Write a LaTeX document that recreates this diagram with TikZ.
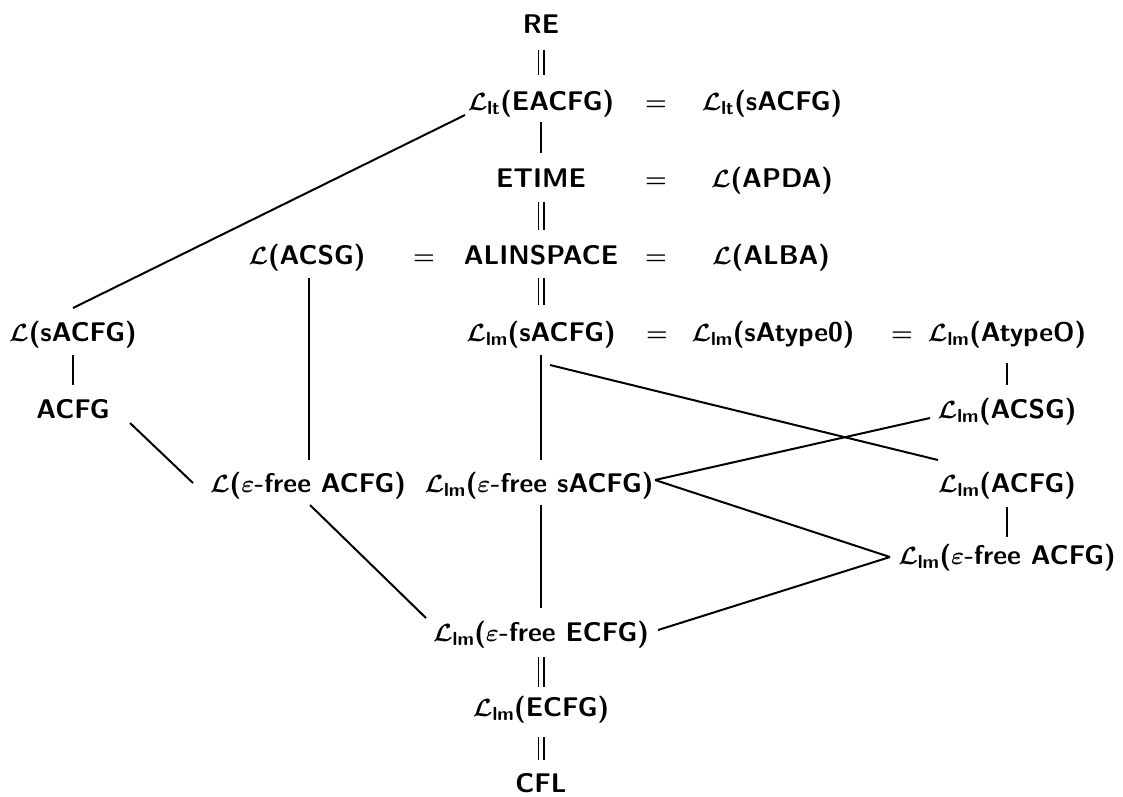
\documentclass[tikz,border=0pt]{standalone}
\usepackage{amsmath}
\usepackage{fontspec}
\newcommand{\LL}{$\mathcal{L}$}
\newcommand{\LLm}{$\mathcal{L}_{\textsf{lm}}$}
\newcommand{\LLt}{$\mathcal{L}_{\textsf{lt}}$}
\newcommand{\eps}{$\varepsilon$}
\begin{document}
\begin{tikzpicture}[x=1pt,y=-1pt,
  lab/.style={font=\fontsize{27}{31}\selectfont\sffamily\bfseries\boldmath, inner sep=0pt, anchor=base},
  ln/.style={line width=2pt},
  eqln/.style={double, double distance=3.4pt, line width=1.8pt}]
\useasboundingbox (0,0) rectangle (1123,796);
% nodes
\node[lab] (re) at (541,33) {RE};
\node[lab] (llt) at (541,110) {\LLt(EACFG)};
\node[lab] (e1) at (656,110) {$=$};
\node[lab] (lltS) at (772,110) {\LLt(sACFG)};
\node[lab] (etime) at (541,187) {ETIME};
\node[lab] (e2) at (656,187) {$=$};
\node[lab] (apda) at (772,187) {\LL(APDA)};
\node[lab] (lacsg) at (307,264) {\LL(ACSG)};
\node[lab] (e3) at (424,264) {$=$};
\node[lab] (alin) at (541,264) {ALINSPACE};
\node[lab] (e4) at (656,264) {$=$};
\node[lab] (alba) at (771,264) {\LL(ALBA)};
\node[lab] (lsacfg) at (73,341) {\LL(sACFG)};
\node[lab] (lmsacfg) at (541,341) {\LLm(sACFG)};
\node[lab] (e5) at (657,341) {$=$};
\node[lab] (lmsat) at (773,341) {\LLm(sAtype0)};
\node[lab] (e6) at (902,341) {$=$};
\node[lab] (lmat) at (1007,341) {\LLm(AtypeO)};
\node[lab] (acfg) at (73,418) {ACFG};
\node[lab] (lmacsg) at (1007,418) {\LLm(ACSG)};
\node[lab] (lefacfg) at (308,492) {\LL(\eps-free ACFG)};
\node[lab] (lmefs) at (539,492) {\LLm(\eps-free sACFG)};
\node[lab] (lmacfg) at (1007,492) {\LLm(ACFG)};
\node[lab] (lmefacfg) at (1007,564) {\LLm(\eps-free ACFG)};
\node[lab] (lmefecfg) at (541,641) {\LLm(\eps-free ECFG)};
\node[lab] (lmecfg) at (541,716) {\LLm(ECFG)};
\node[lab] (cfl) at (541,792) {CFL};
% connectors
\draw[eqln] ([yshift=-17pt]re.base) -- ([yshift=35pt]llt.base);
\draw[ln] ([yshift=-12pt]llt.base) -- ([yshift=34pt]etime.base);
\draw[eqln] ([yshift=-15pt]etime.base) -- ([yshift=34pt]alin.base);
\draw[eqln] ([yshift=-14pt]alin.base) -- ([yshift=36pt]lmsacfg.base);
\draw[ln] ([yshift=-14pt]lmsacfg.base) -- ([xshift=2pt,yshift=32pt]lmefs.base);
\draw[ln] ([xshift=2pt,yshift=-13pt]lmefs.base) -- ([yshift=33pt]lmefecfg.base);
\draw[eqln] ([yshift=-16pt]lmefecfg.base) -- ([yshift=29pt]lmecfg.base);
\draw[eqln] ([yshift=-21pt]lmecfg.base) -- ([yshift=32pt]cfl.base);
\draw[ln] ([xshift=-76pt,yshift=-5pt]llt.base) -- ([yshift=33pt]lsacfg.base);
\draw[ln] ([yshift=-14pt]lsacfg.base) -- ([yshift=33pt]acfg.base);
\draw[ln] ([xshift=57pt,yshift=-5pt]acfg.base) -- ([xshift=-115pt,yshift=9pt]lefacfg.base);
\draw[ln] ([xshift=2pt,yshift=-14pt]lacsg.base) -- ([xshift=1pt,yshift=32pt]lefacfg.base);
\draw[ln] ([xshift=2pt,yshift=-13pt]lefacfg.base) -- ([xshift=-115pt,yshift=23pt]lmefecfg.base);
\draw[ln] ([xshift=9pt,yshift=-24pt]lmsacfg.base) -- ([xshift=-69pt,yshift=32pt]lmacfg.base);
\draw[ln] ([xshift=116pt,yshift=12pt]lmefs.base) -- ([xshift=-77pt]lmacsg.base);
\draw[ln] ([xshift=116pt,yshift=12pt]lmefs.base) -- ([xshift=-117pt,yshift=7pt]lmefacfg.base);
\draw[ln] ([xshift=117pt,yshift=11pt]lmefecfg.base) -- ([xshift=-117pt,yshift=7pt]lmefacfg.base);
\draw[ln] ([yshift=-22pt]lmat.base) -- ([yshift=33pt]lmacsg.base);
\draw[ln] ([yshift=-15pt]lmacfg.base) -- ([yshift=27pt]lmefacfg.base);
\end{tikzpicture}
\end{document}
